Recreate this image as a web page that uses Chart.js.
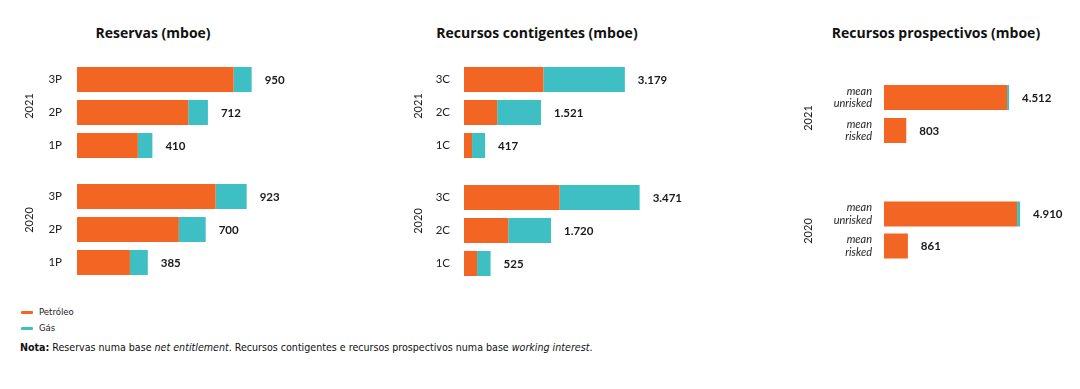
<!DOCTYPE html>
<html><head><meta charset="utf-8">
<script src="https://cdn.jsdelivr.net/npm/chart.js@4"></script>
<style>
html,body{margin:0;padding:0;background:#fff;width:1080px;height:389px;overflow:hidden;position:relative;font-family:Lato,sans-serif}
.t{position:absolute;top:23px;font:bold 14px 'Open Sans';color:#111;transform:translateX(-50%);white-space:nowrap;line-height:19px}
canvas{position:absolute}
.lg{position:absolute;left:21px;font:9.5px 'DejaVu Sans Condensed';color:#222;line-height:12px}
.lg i{display:inline-block;width:12px;height:3px;vertical-align:middle;margin-right:6px;border-radius:1px}
.note{position:absolute;left:20px;top:341px;font:10.6px 'DejaVu Sans Condensed';color:#111;white-space:nowrap;line-height:13px}
</style></head><body>
<div class="t" style="left:153px">Reservas (mboe)</div>
<div class="t" style="left:537px">Recursos contigentes (mboe)</div>
<div class="t" style="left:936px">Recursos prospectivos (mboe)</div>
<canvas id="r21" width="301" height="99" style="left:15px;top:63px"></canvas>
<canvas id="r20" width="301" height="99" style="left:15px;top:180px"></canvas>
<canvas id="c21" width="312" height="99" style="left:405px;top:63px"></canvas>
<canvas id="c20" width="312" height="99" style="left:405px;top:181px"></canvas>
<canvas id="p21" width="283" height="66" style="left:795px;top:81px"></canvas>
<canvas id="p20" width="283" height="64" style="left:795px;top:198px"></canvas>
<div class="lg" style="top:306px"><i style="background:#F26522"></i>Petróleo</div>
<div class="lg" style="top:322px"><i style="background:#3DBFC3"></i>Gás</div>
<div class="note"><b>Nota:</b> Reservas numa base <i>net entitlement</i>. Recursos contigentes e recursos prospectivos numa base <i>working interest</i>.</div>
<script>
// ---- data ----
const reservasCats = ['3P','2P','1P'];
const contingCats = ['3C','2C','1C'];
const prospCats = [['mean','unrisked'],['mean','risked']];
const years = ['2021','2020'];

const reservas2021Oil = [852, 605, 331];
const reservas2021Gas = [98, 107, 79];
const reservas2020Oil = [754, 554, 288];
const reservas2020Gas = [169, 146, 97];

const conting2021Oil = [1570, 656, 159];
const conting2021Gas = [1609, 865, 258];
const conting2020Oil = [1889, 875, 258];
const conting2020Gas = [1582, 845, 267];

const prosp2021Oil = [4440, 803];
const prosp2021Gas = [72, 0];
const prosp2020Oil = [4802, 861];
const prosp2020Gas = [108, 0];

const OIL = '#F26522', GAS = '#3DBFC3';

function fmt(v){ return String(v).replace(/\B(?=(\d{3})+(?!\d))/g, '.'); }

const totalsPlugin = {
  id: 'totals',
  afterDatasetsDraw(chart, args, opts){
    const ctx = chart.ctx;
    const n = chart.data.labels.length;
    ctx.save();
    ctx.font = 'bold 11.5px Lato';
    ctx.fillStyle = '#1a1a1a';
    ctx.textAlign = 'left';
    ctx.textBaseline = 'middle';
    for (let i = 0; i < n; i++) {
      let tot = 0, xe = -Infinity, y = 0;
      chart.data.datasets.forEach((ds, d) => {
        tot += ds.data[i];
        const el = chart.getDatasetMeta(d).data[i];
        if (el.x > xe) xe = el.x;
        y = el.y;
      });
      ctx.fillText(fmt(tot), xe + opts.gap, y + 0.5);
    }
    ctx.restore();
  }
};
const yearPlugin = {
  id: 'year',
  afterDraw(chart, args, opts){
    const ctx = chart.ctx;
    ctx.save();
    ctx.font = '11px Lato';
    ctx.fillStyle = '#222';
    ctx.textAlign = 'center';
    ctx.textBaseline = 'middle';
    ctx.translate(opts.x, opts.y);
    ctx.rotate(-Math.PI/2);
    ctx.fillText(opts.text, 0, 0);
    ctx.restore();
  }
};

function make(id, cats, oil, gas, max, axisW, pad, barPct, year, yx, yy, italic){
  new Chart(document.getElementById(id), {
    type: 'bar',
    data: { labels: cats, datasets: [
      { label: 'Petróleo', data: oil, backgroundColor: OIL, borderWidth: 0 },
      { label: 'Gás', data: gas, backgroundColor: GAS, borderWidth: 0 }
    ]},
    options: {
      indexAxis: 'y', responsive: false, animation: false,
      layout: { padding: 0 },
      plugins: { legend: { display: false }, tooltip: { enabled: false },
        totals: { gap: 13 }, year: { text: year, x: yx, y: yy } },
      datasets: { bar: { categoryPercentage: 1, barPercentage: barPct } },
      scales: {
        x: { stacked: true, display: false, min: 0, max: max },
        y: { stacked: true,
             grid: { display: false, drawTicks: false }, border: { display: false },
             ticks: { padding: pad, color: '#222',
               font: { family: 'Lato', size: italic ? 11 : 11.5, style: italic ? 'italic' : 'normal', lineHeight: 1.1 } },
             afterFit(s){ s.width = axisW; s.paddingTop = 0; s.paddingBottom = 0; } }
      }
    },
    plugins: [totalsPlugin, yearPlugin]
  });
}

make('r21', reservasCats, reservas2021Oil, reservas2021Gas, 1300, 62, 15, 25/33, years[0], 14, 43, false);
make('r20', reservasCats, reservas2020Oil, reservas2020Gas, 1300, 62, 15, 25/33, years[1], 14, 40, false);
make('c21', contingCats, conting2021Oil, conting2021Gas, 5000, 59, 14, 25/33, years[0], 13, 43, false);
make('c20', contingCats, conting2020Oil, conting2020Gas, 5000, 59, 14, 25/33, years[1], 13, 40, false);
make('p21', prospCats, prosp2021Oil, prosp2021Gas, 7000, 89, 12, 25/33, years[0], 13, 37, true);
make('p20', prospCats, prosp2020Oil, prosp2020Gas, 7000, 89, 12, 25/32, years[1], 13, 33, true);
</script>
</body></html>
